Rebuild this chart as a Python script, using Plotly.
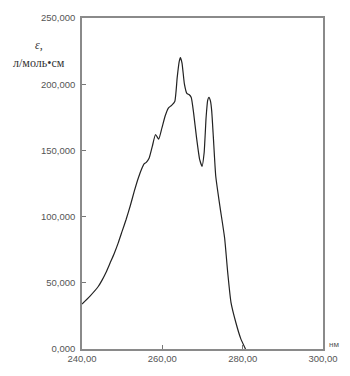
import plotly.graph_objects as go

wavelength = [240.0, 242.0, 244.0, 245.0, 246.0, 247.0, 248.0, 249.0, 250.0, 251.0,
              252.0, 253.0, 254.0, 255.0, 255.5, 256.0, 256.7, 257.5, 258.3, 259.1,
              259.9, 260.7, 261.5, 262.3, 263.1, 263.7, 264.2, 264.5, 264.9, 265.5,
              266.1, 266.7, 267.2, 267.8, 268.5, 269.3, 269.9, 270.4, 270.9, 271.3,
              271.6, 272.0, 272.3, 272.7, 273.3, 274.3, 275.5, 276.3, 277.1, 278.3,
              279.5, 280.7]
epsilon = [34000, 40000, 47000, 52000, 58000, 65000, 72000, 80000, 89000, 98000,
           108000, 119000, 129000, 137000, 140000, 141000, 144000, 153000, 162000, 158500,
           167000, 176000, 182000, 184000, 187000, 205000, 217000, 220000, 216000, 200000,
           193000, 192000, 190000, 178000, 160000, 143000, 138000, 148000, 175000, 188000,
           190000, 187000, 179500, 160000, 130500, 108500, 84000, 57000, 35000, 20000,
           8000, 0]

x_ticks = [240, 260, 280, 300]
x_labels = ["240,00", "260,00", "280,00", "300,00"]
y_ticks = [0, 50000, 100000, 150000, 200000, 250000]
y_labels = ["0,000", "50,000", "100,000", "150,000", "200,000", "250,000"]

fig = go.Figure()
fig.add_trace(go.Scatter(x=wavelength, y=epsilon, mode="lines",
                         line=dict(color="#222222", width=1.2, shape="spline", smoothing=0.5),
                         showlegend=False))

axis_font = dict(family="Liberation Sans, Arial, sans-serif", size=9.5, color="#555555")
fig.update_xaxes(range=[240, 300], tickvals=x_ticks, ticktext=x_labels,
                 showline=True, linecolor="#8a8a8a", linewidth=1.5, mirror=True,
                 ticks="inside", ticklen=4, tickcolor="#777777", tickfont=axis_font,
                 showgrid=False, zeroline=False)
fig.update_yaxes(range=[0, 250000], tickvals=y_ticks, ticktext=y_labels,
                 showline=True, linecolor="#8a8a8a", linewidth=1.5, mirror=True,
                 ticks="inside", ticklen=4, tickcolor="#777777", tickfont=axis_font,
                 ticklabelstandoff=3, showgrid=False, zeroline=False)

fig.update_layout(
    width=350, height=376,
    margin=dict(l=82, r=18, t=16, b=19),
    paper_bgcolor="white", plot_bgcolor="white",
)

W, H = 350, 376
pw, ph = W - 82 - 18, H - 16 - 19


def px(xp):
    return (xp - 82) / pw


def py(yp):
    return (H - 19 - yp) / ph


serif = dict(family="Liberation Serif, Times New Roman, serif", size=12, color="#333333")
fig.add_annotation(x=px(37), y=py(44), xref="paper", yref="paper", text="<i>ε</i>,",
                   showarrow=False, xanchor="center", yanchor="middle", font=serif)
fig.add_annotation(x=px(37), y=py(62), xref="paper", yref="paper", text="л/моль•см",
                   showarrow=False, xanchor="center", yanchor="middle", font=serif)
fig.add_annotation(x=px(343), y=py(352), xref="paper", yref="paper", text="нм",
                   showarrow=False, xanchor="center", yanchor="middle",
                   font=dict(family="Liberation Sans, Arial, sans-serif", size=8, color="#555555"))

fig.write_html("out.html")
